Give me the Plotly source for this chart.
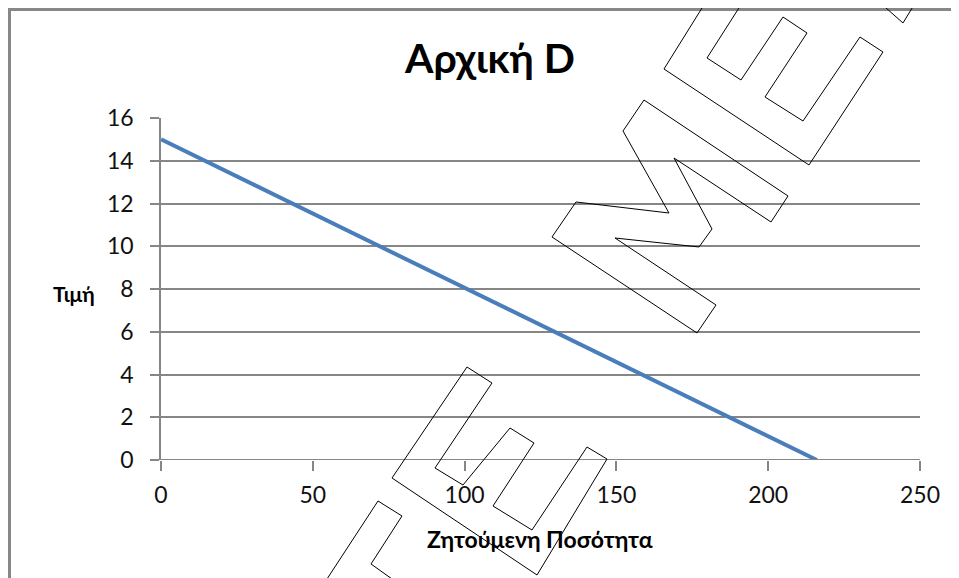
import plotly.graph_objects as go

# Data
quantity = [0, 216]
price = [15, 0]
x_ticks = [0, 50, 100, 150, 200, 250]
y_ticks = [0, 2, 4, 6, 8, 10, 12, 14, 16]
title_text = "Αρχική D"
x_title = "Ζητούμενη Ποσότητα"
y_title = "Τιμή"

# The page body adds an 8px margin; place the plot so it lands where the reference has it.
OFF = 8
W, H = 959, 578
L = 161 - OFF
T = 118 - OFF
R = W - (920 - OFF)
B = H - (460 - OFF)
PW, PH = W - L - R, H - T - B

def px(x):
    return (x - OFF - L) / PW

def py(y):
    return (H - B - (y - OFF)) / PH

def path(points, closed=False):
    s = "M " + " L ".join(f"{px(a):.5f},{py(b):.5f}" for a, b in points)
    return s + (" Z" if closed else "")

fig = go.Figure()
fig.add_trace(go.Scatter(
    x=quantity, y=price, mode="lines",
    line=dict(color="#4A7EBB", width=4),
    showlegend=False, hoverinfo="skip",
))

grid_col = "#868686"
font_fam = "Lato, 'Open Sans', sans-serif"

fig.update_layout(
    width=W, height=H,
    margin=dict(l=L, r=R, t=T, b=B),
    paper_bgcolor="white", plot_bgcolor="white",
    font=dict(family=font_fam, color="#111"),
    xaxis=dict(
        range=[0, 250], tickvals=x_ticks, showgrid=False, zeroline=False,
        showline=False, ticks="outside", ticklen=10, tickwidth=1.5,
        tickcolor=grid_col, tickfont=dict(size=23, color="#111"),
        ticklabelstandoff=4, fixedrange=True,
    ),
    yaxis=dict(
        range=[0, 16], tickvals=y_ticks, showgrid=True, gridcolor=grid_col,
        gridwidth=1.5, zeroline=False, showline=True, linecolor=grid_col,
        linewidth=1.5, ticks="outside", ticklen=9, tickwidth=1.5,
        tickcolor=grid_col, tickfont=dict(size=23, color="#111"),
        ticklabelstandoff=12, fixedrange=True,
    ),
    showlegend=False,
)

shapes = []
# x axis line at y=0
shapes.append(dict(type="line", xref="paper", yref="y", x0=0, x1=1, y0=0, y1=0,
                   line=dict(color=grid_col, width=2), layer="above"))
# chart outer frame (top and left edges visible)
shapes.append(dict(type="path", xref="paper", yref="paper",
                   path=path([(9.5, 700), (9.5, 9.5), (1000, 9.5)]),
                   line=dict(color="#878787", width=3)))
# watermark outlines
wm = dict(color="black", width=1)
shapes.append(dict(type="path", xref="paper", yref="paper", line=wm,
                   path=path([(707, 0), (664, 69), (809, 165), (883, 52), (860, 37),
                              (803, 121), (765, 97), (807, 33), (783, 17), (741, 80),
                              (707, 58), (744, 0)])))
shapes.append(dict(type="path", xref="paper", yref="paper", line=wm,
                   path=path([(877, 0), (903, 23), (917, 0)])))
shapes.append(dict(type="path", xref="paper", yref="paper", line=wm,
                   path=path([(644, 100), (788, 196), (771, 222), (674, 158),
                              (712, 229), (699, 247), (615, 238), (716, 305),
                              (697, 333), (552, 237), (576, 202), (669, 213),
                              (623, 131)], closed=True)))
shapes.append(dict(type="path", xref="paper", yref="paper", line=wm,
                   path=path([(392, 478), (467, 367), (492, 383), (435, 468),
                              (463, 485), (510, 428), (534, 443), (493, 506),
                              (532, 530), (587, 447), (607, 459), (537, 575)],
                             closed=True)))
shapes.append(dict(type="path", xref="paper", yref="paper", line=wm,
                   path=path([(327, 579), (378, 501), (402, 516), (371, 564),
                              (392, 579)])))
fig.update_layout(shapes=shapes)

annotations = [
    dict(text=f"<b>{title_text}</b>", xref="paper", yref="paper",
         x=px(489), y=py(58), showarrow=False, xanchor="center", yanchor="middle",
         font=dict(size=41, family=font_fam, color="#000")),
    dict(text=f"<b>{y_title}</b>", xref="paper", yref="paper",
         x=px(74), y=py(293), showarrow=False, xanchor="center", yanchor="middle",
         font=dict(size=21, family=font_fam, color="#000")),
    dict(text=f"<b>{x_title}</b>", xref="paper", yref="paper",
         x=px(540), y=py(539), showarrow=False, xanchor="center", yanchor="middle",
         font=dict(size=23, family=font_fam, color="#000")),
]
fig.update_layout(annotations=annotations)

fig.write_html("out.html")
